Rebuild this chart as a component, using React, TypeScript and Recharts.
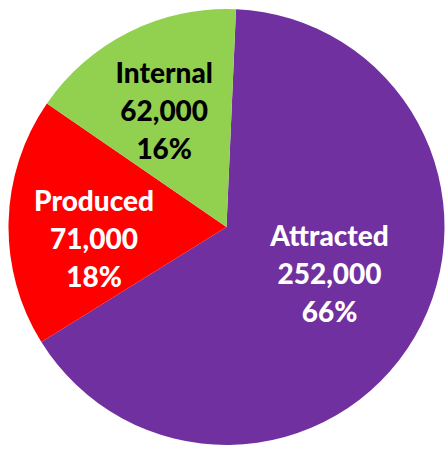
import { Cell, Pie, PieChart } from "recharts"

const categories = ["Attracted", "Produced", "Internal"]
const values = [252000, 71000, 62000]
const percentLabels = ["66%", "18%", "16%"]
const colors = ["#7030A0", "#FF0000", "#92D050"]
const textColors = ["#FFFFFF", "#FFFFFF", "#000000"]

const data = categories.map((name, i) => ({
    name,
    value: values[i],
    pct: percentLabels[i],
}))

// label placement tweaks (fraction of radius, angle shift in degrees)
const labelRadius = [0.52, 0.61, 0.605]
const labelShift = [5.7, 6.3, 1.7]

const RAD = Math.PI / 180

function renderLabel(props: any) {
    const { cx, cy, midAngle, outerRadius, index } = props
    const r = outerRadius * labelRadius[index]
    const a = (midAngle + labelShift[index]) * RAD
    const x = cx + r * Math.cos(-a)
    const y = cy + r * Math.sin(-a)
    const d = data[index]
    return (
        <text
            x={x}
            y={y}
            fill={textColors[index]}
            textAnchor="middle"
            fontFamily="Lato, 'Open Sans', sans-serif"
            fontWeight={900}
            fontSize={28}
        >
            <tspan x={x} dy={-28}>{d.name}</tspan>
            <tspan x={x} dy={38}>{d.value.toLocaleString("en-US")}</tspan>
            <tspan x={x} dy={38}>{d.pct}</tspan>
        </text>
    )
}

export default function App() {
    return (
        <div style={{ position: "absolute", left: 0, top: 0, background: "#fff" }}>
            <PieChart width={448} height={449} margin={{ top: 0, right: 0, bottom: 0, left: 0 }}>
                <Pie
                    data={data}
                    dataKey="value"
                    cx={226.5}
                    cy={227}
                    outerRadius={218}
                    startAngle={87.5}
                    endAngle={-272.5}
                    stroke="none"
                    label={renderLabel}
                    labelLine={false}
                    isAnimationActive={false}
                >
                    {data.map((d, i) => (
                        <Cell key={d.name} fill={colors[i]} />
                    ))}
                </Pie>
            </PieChart>
        </div>
    )
}
